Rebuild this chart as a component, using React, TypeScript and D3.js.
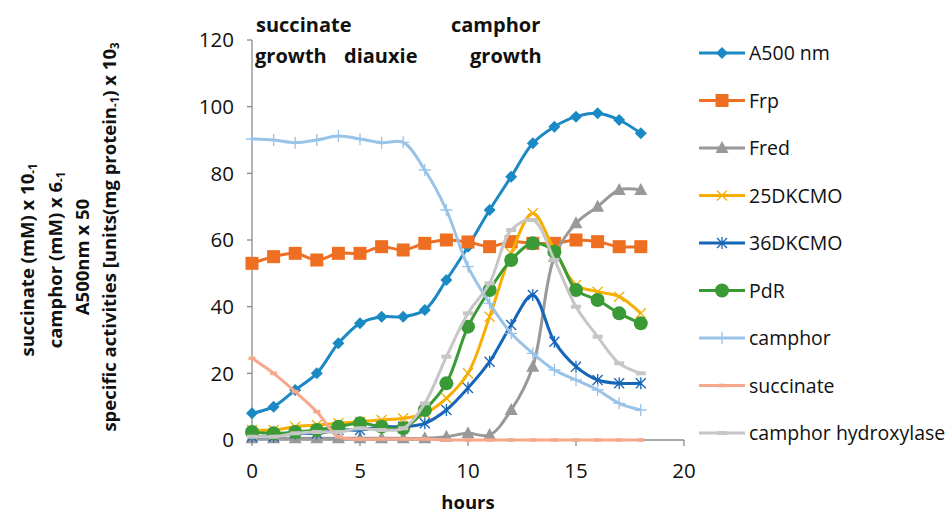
import React from "react";
import * as d3 from "d3";

const hours = [0, 1, 2, 3, 4, 5, 6, 7, 8, 9, 10, 11, 12, 13, 14, 15, 16, 17, 18];
const a500 = [8, 10, 15, 20, 29, 35, 37, 37, 39, 48, 58, 69, 79, 89, 94, 97, 98, 96, 92];
const frp = [53, 55, 56, 54, 56, 56, 58, 57, 59, 60, 59.4, 58, 59.5, 59, 59, 60, 59.5, 58, 58];
const fred = [0.5, 0.5, 0.5, 0.5, 0.5, 0.5, 0.5, 0.5, 0.5, 1, 2, 1.5, 9, 22, 55, 65, 70, 75, 75];
const dkcmo25 = [3, 3, 4, 4.5, 5, 5.5, 6, 6.5, 8, 12.5, 20, 37, 56, 68, 57, 46.5, 44.5, 43, 38];
const dkcmo36 = [1, 1, 2, 2, 3, 3, 4, 4, 5, 9, 15.6, 23.5, 34.5, 43.5, 29.5, 22, 18, 17, 17];
const pdr = [2.4, 2, 2.4, 3, 4, 5, 4, 3.5, 9, 17, 34, 45, 54, 59, 56.5, 45, 42, 38, 35];
const camphor = [90.3, 90, 89.2, 90, 91.2, 90.3, 89.2, 89.3, 81, 69, 52, 41, 32, 26, 21, 18, 15, 11, 9];
const succinate = [24.5, 20, 14.5, 8.5, 1, 0.3, 0.3, 0.3, 0.3, 0, 0, 0, 0, 0, 0, 0, 0, 0, 0];
const hydroxylase = [1, 1, 2, 2.4, 2.4, 3.5, 3, 3.5, 11, 25, 38, 47, 63, 66, 54, 40, 31, 23, 20];

const xTicks = [0, 5, 10, 15, 20];
const yTicks = [0, 20, 40, 60, 80, 100, 120];

type Marker = "diamond" | "square" | "triangle" | "x" | "asterisk" | "circle" | "plus" | "dash" | "dashwide";

const seriesList: { name: string; values: number[]; color: string; marker: Marker }[] = [
  { name: "A500 nm", values: a500, color: "#1B8AC4", marker: "diamond" },
  { name: "Frp", values: frp, color: "#EF6F22", marker: "square" },
  { name: "Fred", values: fred, color: "#999999", marker: "triangle" },
  { name: "25DKCMO", values: dkcmo25, color: "#F7AE00", marker: "x" },
  { name: "36DKCMO", values: dkcmo36, color: "#1565B8", marker: "asterisk" },
  { name: "PdR", values: pdr, color: "#3A9A35", marker: "circle" },
  { name: "camphor", values: camphor, color: "#9AC3E8", marker: "plus" },
  { name: "succinate", values: succinate, color: "#F6A88C", marker: "dash" },
  { name: "camphor hydroxylase", values: hydroxylase, color: "#C6C6C6", marker: "dashwide" },
];

const FONT = "'Open Sans', 'Noto Sans', sans-serif";

function MarkerShape({ type, x, y, color }: { type: Marker; x: number; y: number; color: string }) {
  switch (type) {
    case "diamond":
      return <path d={`M${x},${y - 6}L${x + 6},${y}L${x},${y + 6}L${x - 6},${y}Z`} fill={color} />;
    case "square":
      return <rect x={x - 6.5} y={y - 6.5} width={13} height={13} fill={color} />;
    case "triangle":
      return <path d={`M${x},${y - 7}L${x + 6.5},${y + 5}L${x - 6.5},${y + 5}Z`} fill={color} />;
    case "x":
      return (
        <path d={`M${x - 5},${y - 5}L${x + 5},${y + 5}M${x - 5},${y + 5}L${x + 5},${y - 5}`} stroke={color} strokeWidth={1.3} fill="none" />
      );
    case "asterisk":
      return (
        <path
          d={`M${x - 5},${y - 5}L${x + 5},${y + 5}M${x - 5},${y + 5}L${x + 5},${y - 5}M${x},${y - 6}L${x},${y + 6}`}
          stroke={color}
          strokeWidth={1.3}
          fill="none"
        />
      );
    case "circle":
      return <circle cx={x} cy={y} r={7} fill={color} />;
    case "plus":
      return <path d={`M${x - 6},${y}L${x + 6},${y}M${x},${y - 6}L${x},${y + 6}`} stroke={color} strokeWidth={1.3} fill="none" />;
    case "dash":
      return <rect x={x - 3.5} y={y - 1.8} width={7} height={3.6} fill={color} />;
    case "dashwide":
      return <rect x={x - 5} y={y - 2} width={10} height={4} fill={color} />;
  }
  return null;
}

export default function App() {
  const W = 951;
  const H = 513;
  const x = d3.scaleLinear().domain([0, 20]).range([252, 684]);
  const y = d3.scaleLinear().domain([0, 120]).range([440, 40]);
  const line = d3
    .line<number>()
    .x((_, i) => x(hours[i]))
    .y((d) => y(d))
    .curve(d3.curveCatmullRom.alpha(0.5));

  const axisColor = "#8C8C8C";
  const legendY0 = 53;
  const legendStep = 47.5;

  return (
    <svg width={W} height={H} style={{ position: "absolute", left: 0, top: 0, background: "#fff" }} fontFamily={FONT}>
      {/* y axis */}
      <line x1={x(0)} x2={x(0)} y1={y(0)} y2={y(120)} stroke={axisColor} strokeWidth={1.3} />
      {yTicks.map((t) => (
        <g key={"yt" + t}>
          <line x1={x(0) - 5} x2={x(0)} y1={y(t)} y2={y(t)} stroke={axisColor} strokeWidth={1.3} />
          <text x={x(0) - 18} y={y(t)} dy="0.36em" textAnchor="end" fontSize={20.5} fill="#111">
            {t}
          </text>
        </g>
      ))}
      {/* x axis */}
      <line x1={x(0)} x2={x(20)} y1={y(0)} y2={y(0)} stroke={axisColor} strokeWidth={1.3} />
      {xTicks.map((t) => (
        <g key={"xt" + t}>
          <line x1={x(t)} x2={x(t)} y1={y(0)} y2={y(0) + 6} stroke={axisColor} strokeWidth={1.3} />
          <text x={x(t)} y={478} textAnchor="middle" fontSize={20.5} fill="#111">
            {t}
          </text>
        </g>
      ))}
      <text x={468} y={509} textAnchor="middle" fontSize={18.5} fontWeight="bold" fill="#111">
        hours
      </text>

      {/* y title */}
      <g fontWeight="bold" fontSize={18.5} fill="#111">
        <text transform={`translate(34,260) rotate(-90)`} textAnchor="middle">
          succinate (mM) x 10<tspan fontSize={11.5} dy={3}>-1</tspan>
        </text>
        <text transform={`translate(62,260) rotate(-90)`} textAnchor="middle">
          camphor (mM) x 6<tspan fontSize={11.5} dy={3}>-1</tspan>
        </text>
        <text transform={`translate(89,257) rotate(-90)`} textAnchor="middle">
          A500nm x 50
        </text>
        <text transform={`translate(116,237) rotate(-90)`} textAnchor="middle">
          specific activities [units(mg protein<tspan fontSize={11.5} dy={3}>-1</tspan>
          <tspan dy={-3}>) x 10</tspan>
          <tspan fontSize={11.5} dy={3}>3</tspan>
        </text>
      </g>

      {/* series */}
      {seriesList.map((s) => (
        <g key={s.name}>
          <path d={line(s.values) || ""} fill="none" stroke={s.color} strokeWidth={3} strokeLinejoin="round" />
          {s.values.map((v, i) => (
            <MarkerShape key={i} type={s.marker} x={x(hours[i])} y={y(v)} color={s.color} />
          ))}
        </g>
      ))}

      {/* annotations */}
      <g fontWeight="bold" fontSize={20} fill="#111">
        <text x={256} y={32}>succinate</text>
        <text x={255} y={63}>growth</text>
        <text x={344} y={63}>diauxie</text>
        <text x={451} y={32}>camphor</text>
        <text x={470} y={63}>growth</text>
      </g>

      {/* legend */}
      {seriesList.map((s, i) => {
        const ly = legendY0 + i * legendStep;
        return (
          <g key={"lg" + s.name}>
            <line x1={699} x2={745} y1={ly} y2={ly} stroke={s.color} strokeWidth={3} />
            <MarkerShape type={s.marker} x={722} y={ly} color={s.color} />
            <text x={749} y={ly} dy="0.36em" fontSize={19.5} fill="#111">
              {s.name}
            </text>
          </g>
        );
      })}
    </svg>
  );
}
